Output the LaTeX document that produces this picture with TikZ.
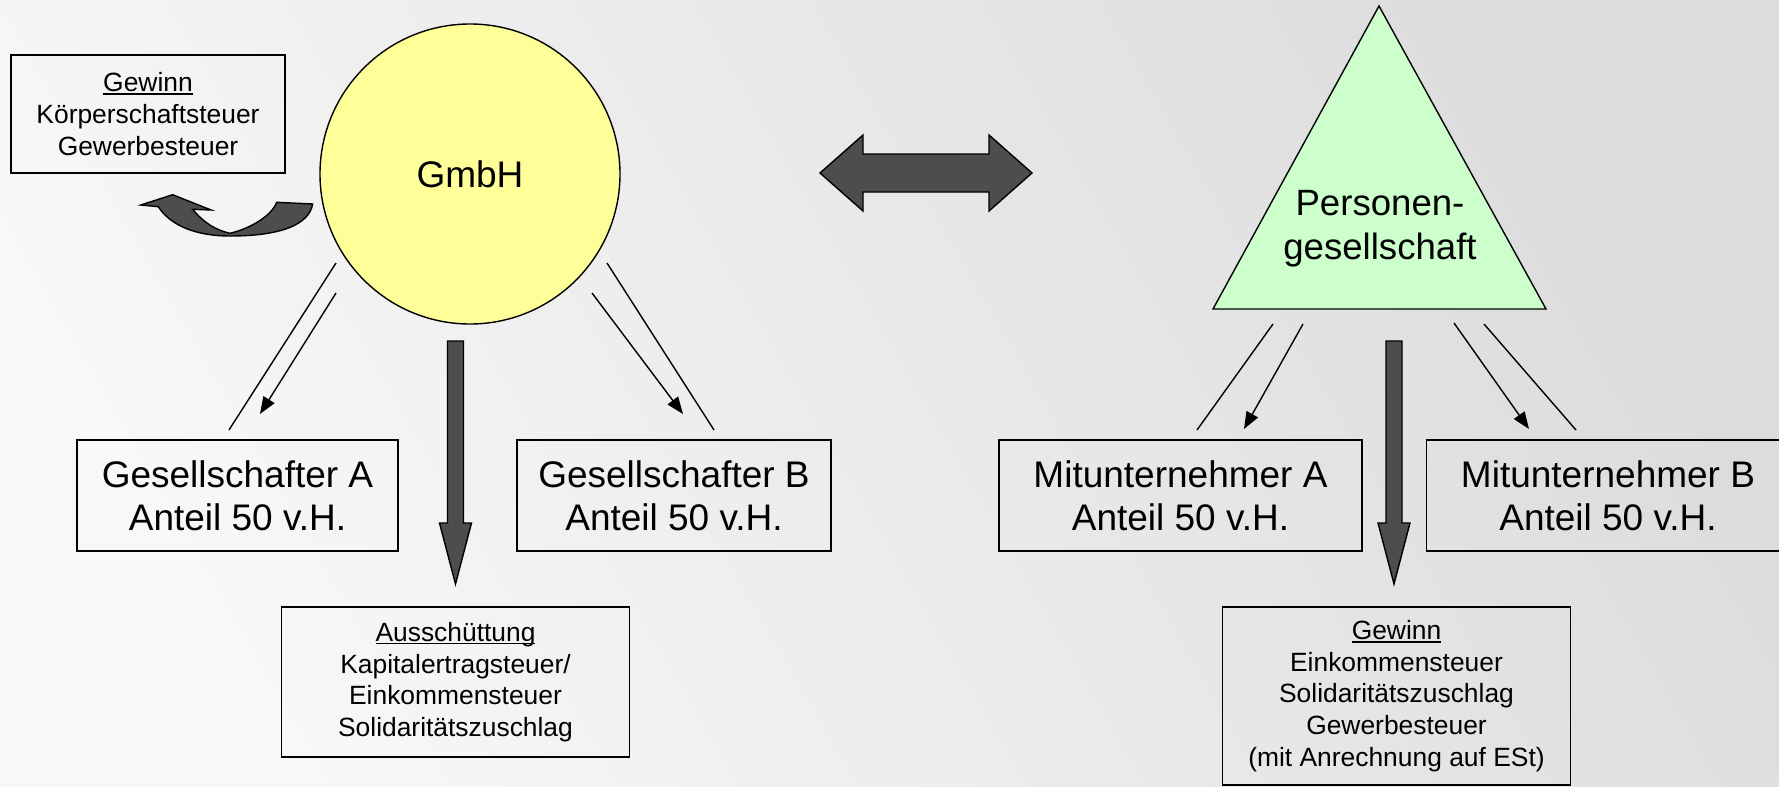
\documentclass[tikz,border=0pt]{standalone}
\usepackage{fontspec}
\setmainfont{Liberation Sans}
\usepackage{tikz}
\usetikzlibrary{arrows.meta, positioning}
\definecolor{gmbhyellow}{HTML}{FFFF99}
\definecolor{pggreen}{HTML}{CCFFCC}
\definecolor{arrowgray}{HTML}{4D4D4D}
\definecolor{bglight}{HTML}{F8F8F8}
\definecolor{bgdark}{HTML}{DCDCDC}
\newcommand\ulword[1]{\setbox0\hbox{#1}\rlap{\rule[-0.11em]{\wd0}{0.06em}}\box0}

\begin{document}
\begin{tikzpicture}[x=0.5pt, y=-0.5pt, >={Triangle[length=8.5pt, width=6.5pt]},
  font=\fontsize{18.5}{21.7}\selectfont,
  partbox/.style={draw, line width=0.75pt, inner sep=0pt, align=center, minimum height=55.5pt},
  taxbox/.style={draw, line width=0.75pt, inner sep=0pt, align=center, font=\fontsize{13.2}{15.8}\selectfont},
  flowline/.style={line width=0.7pt},
  bigarrow/.style={draw, line width=0.7pt, fill=arrowgray, line join=miter}]
  \shade[bottom color=bglight, top color=bgdark, shading angle=-60] (0,0) rectangle (1779,787);
  \useasboundingbox (0,0) rectangle (1779,787);

  \node[circle, draw, line width=0.7pt, fill=gmbhyellow, minimum size=150pt, inner sep=0pt] (gmbh) at (470,174) {GmbH};
  \coordinate (pgtop) at (1379,6);
  \coordinate (pgleft) at (1213,309);
  \coordinate (pgright) at (1546,309);
  \draw[line width=0.7pt, fill=pggreen, line join=miter] (pgtop) -- (pgright) -- (pgleft) -- cycle;
  \node[align=center, font=\fontsize{18.3}{22}\selectfont] (pg) at (1380,229) {Personen-\\gesellschaft};

  \node[taxbox, minimum width=137pt, minimum height=59pt] (gewinnkap) at (148,114) {\ulword{Gewinn}\\Körperschaftsteuer\\Gewerbesteuer};
  \node[partbox, minimum width=160.5pt] (gesA) at (237.5,495.5) {Gesellschafter A\\Anteil 50 v.H.};
  \node[partbox, minimum width=157pt] (gesB) at (674,495.5) {Gesellschafter B\\Anteil 50 v.H.};
  \node[partbox, minimum width=181.5pt] (mitA) at (1180.5,495.5) {Mitunternehmer A\\Anteil 50 v.H.};
  \node[partbox, minimum width=181.5pt] (mitB) at (1608,495.5) {Mitunternehmer B\\Anteil 50 v.H.};
  \node[taxbox, minimum width=173.8pt, minimum height=75pt] (aussch) at (455.5,682) {\ulword{Ausschüttung}\\Kapitalertragsteuer/\\Einkommensteuer\\Solidaritätszuschlag};
  \node[taxbox, minimum width=174.2pt, minimum height=89pt] (gewinnpg) at (1396.5,696) {\ulword{Gewinn}\\Einkommensteuer\\Solidaritätszuschlag\\Gewerbesteuer\\(mit Anrechnung auf ESt)};

  \draw[bigarrow] (140.7,205) -- (172.7,194.7) -- (211,210) -- (192.7,209.3)
    .. controls (203,222) and (215,230) .. (230,233.3)
    .. controls (252,228) and (272,215) .. (276.7,202.3) -- (312.7,204)
    .. controls (309,225) and (280,236) .. (230,236)
    .. controls (195,236) and (170,225) .. (158.3,206.7) -- cycle;
  \draw[bigarrow] (820,173) -- (863,135) -- (863,154) -- (989,154) -- (989,135) -- (1032,173)
    -- (989,211) -- (989,192) -- (863,192) -- (863,211) -- cycle;
  \foreach \cx in {455.5,1394}
    \draw[bigarrow] (\cx-8,341) -- (\cx+8,341) -- (\cx+8,523) -- (\cx+16,523) -- (\cx,584)
      -- (\cx-16,523) -- (\cx-8,523) -- cycle;

  \coordinate (a1) at (336,263); \coordinate (a2) at (229,430);
  \coordinate (a3) at (336,293); \coordinate (a4) at (260,414);
  \coordinate (b1) at (607,263); \coordinate (b2) at (714,430);
  \coordinate (b3) at (592,293); \coordinate (b4) at (683,414);
  \coordinate (c1) at (1273,324); \coordinate (c2) at (1197,430);
  \coordinate (c3) at (1303,324); \coordinate (c4) at (1244,429);
  \coordinate (d1) at (1484,324); \coordinate (d2) at (1576,430);
  \coordinate (d3) at (1454,323); \coordinate (d4) at (1529,429);
  \draw[flowline] (a1) -- (a2);
  \draw[flowline, ->] (a3) -- (a4);
  \draw[flowline] (b1) -- (b2);
  \draw[flowline, ->] (b3) -- (b4);
  \draw[flowline] (c1) -- (c2);
  \draw[flowline, ->] (c3) -- (c4);
  \draw[flowline] (d1) -- (d2);
  \draw[flowline, ->] (d3) -- (d4);
\end{tikzpicture}
\end{document}
